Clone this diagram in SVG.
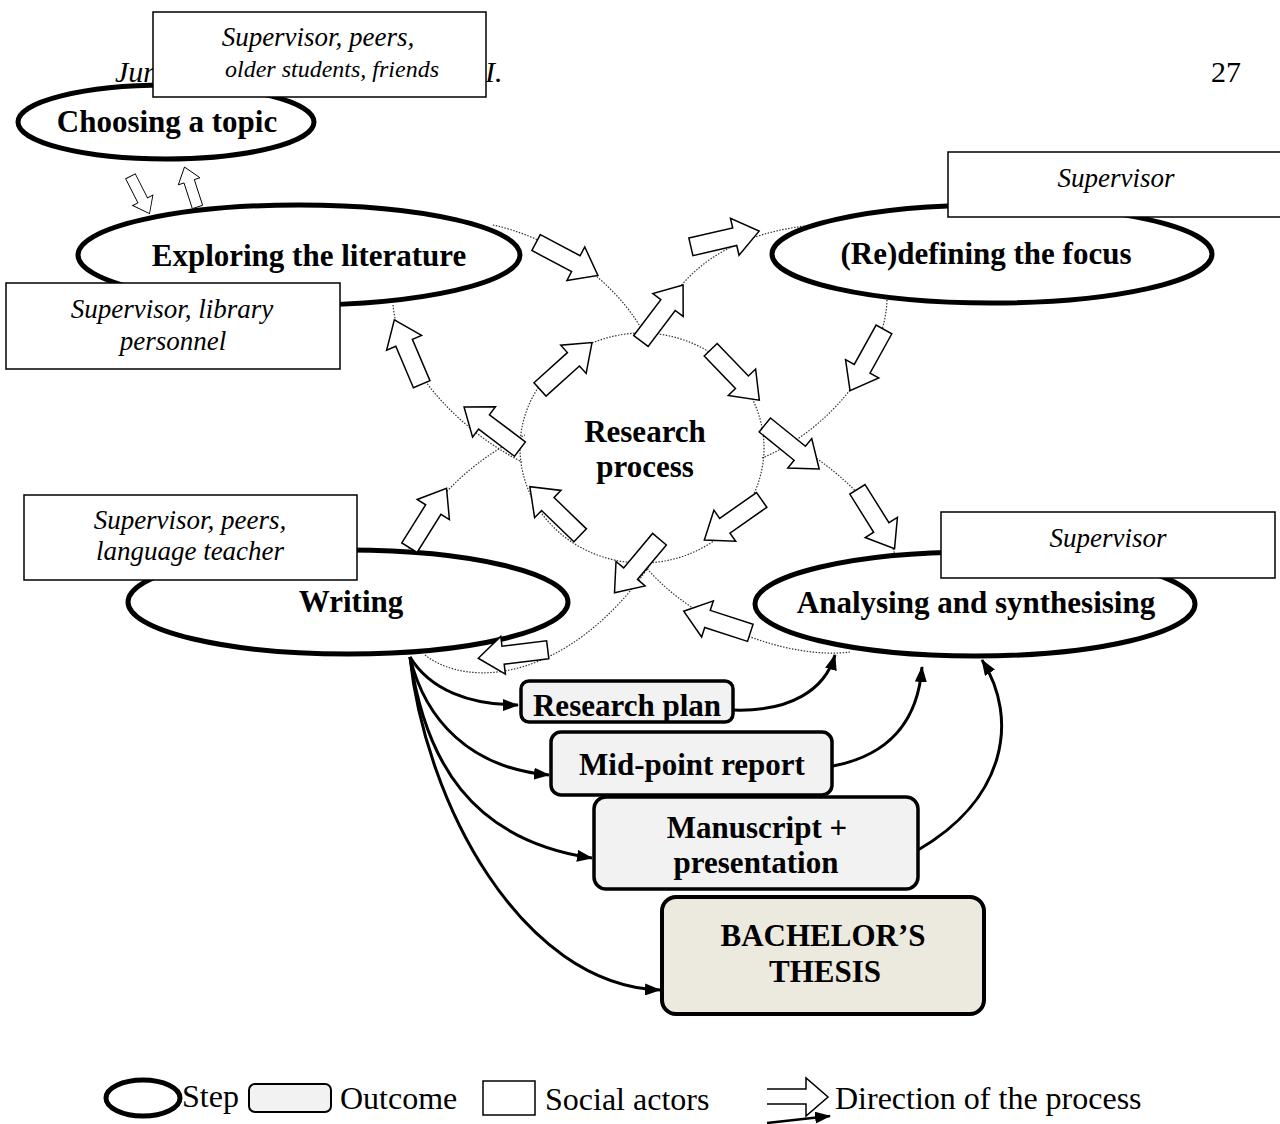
<svg xmlns="http://www.w3.org/2000/svg" xmlns:xlink="http://www.w3.org/1999/xlink" width="1280" height="1124" viewBox="0 0 1280 1124">
<style>
.step{fill:#fff;stroke:#000;stroke-width:5}
.actor{fill:#fff;stroke:#000;stroke-width:1.5}
.out{fill:#f2f2f2;stroke:#000;stroke-width:3.5}
.thesis{fill:#ece9df;stroke:#000;stroke-width:4}
.dot{fill:none;stroke:#333;stroke-width:1.2;stroke-dasharray:1.5 1.5}
.ba{fill:#fff;stroke:#000;stroke-width:1.5}
.con{fill:none;stroke:#000;stroke-width:3;marker-end:url(#ah)}
.tb{font-family:"Liberation Serif","Times New Roman",serif;font-weight:bold;font-size:31px;text-anchor:middle;fill:#000}
.ti{font-family:"Liberation Serif","Times New Roman",serif;font-style:italic;font-size:27px;text-anchor:middle;fill:#000}
.tn{font-family:"Liberation Serif","Times New Roman",serif;font-size:32px;fill:#000}
</style>
<defs>
<marker id="ah" viewBox="0 0 16 12" refX="15" refY="6" markerWidth="16" markerHeight="12" markerUnits="userSpaceOnUse" orient="auto"><path d="M0,0 L16,6 L0,12 Z" fill="#000"/></marker>
<path id="barrow" class="ba" d="M-35,-9 H10 V-19 L35,0 L10,19 V9 H-35 Z"/>
</defs>
<rect width="1280" height="1124" fill="#fff"/>

<g id="header">
<text class="tn" x="115" y="82" style="font-style:italic;font-size:30px">Jun</text>
<text class="tn" x="485" y="82" style="font-style:italic;font-size:30px">I.</text>
<text class="tn" x="1211" y="82" style="font-size:30px">27</text>
</g>

<g id="loops">
<path class="dot" d="M493,225 C540,235 610,270 645,335"/>
<path class="dot" d="M393,305 C398,360 450,425 522,462"/>
<path class="dot" d="M655,335 C672,275 730,228 830,224"/>
<path class="dot" d="M887,300 C885,360 830,430 762,458"/>
<path class="dot" d="M765,428 C820,455 880,500 895,555"/>
<path class="dot" d="M850,652 C790,660 690,625 640,560"/>
<path class="dot" d="M405,560 C420,510 470,460 525,435"/>
<path class="dot" d="M425,655 C470,690 570,680 650,565"/>
</g>

<g id="research-process">
<ellipse cx="642" cy="448" rx="122" ry="115" fill="#fff" class="dot"/>
<text class="tb" x="645" y="442">Research</text>
<text class="tb" x="645" y="477">process</text>
</g>

<g id="choosing">
<ellipse class="step" cx="166" cy="122" rx="148" ry="37"/>
<text class="tb" x="167" y="132">Choosing a topic</text>
</g>
<g id="exploring">
<ellipse class="step" cx="299" cy="255" rx="221" ry="50"/>
<text class="tb" x="309" y="266">Exploring the literature</text>
</g>
<g id="redefining">
<ellipse class="step" cx="992" cy="254" rx="220" ry="49"/>
<text class="tb" x="986" y="264">(Re)defining the focus</text>
</g>
<g id="writing">
<ellipse class="step" cx="348" cy="602" rx="220" ry="52"/>
<text class="tb" x="351" y="612">Writing</text>
</g>
<g id="analysing">
<ellipse class="step" cx="975" cy="604" rx="220" ry="52"/>
<text class="tb" x="976" y="613">Analysing and synthesising</text>
</g>

<g id="process-arrows">
<use xlink:href="#barrow" transform="translate(140,195) rotate(63) scale(0.6)"/>
<use xlink:href="#barrow" transform="translate(191,187) rotate(-108) scale(0.6)"/>
<use xlink:href="#barrow" transform="translate(567,259) rotate(28)"/>
<use xlink:href="#barrow" transform="translate(725,239) rotate(-13)"/>
<use xlink:href="#barrow" transform="translate(662,313) rotate(-53)"/>
<use xlink:href="#barrow" transform="translate(566,366) rotate(-42)"/>
<use xlink:href="#barrow" transform="translate(408,352) rotate(-113)"/>
<use xlink:href="#barrow" transform="translate(492,428) rotate(-143)"/>
<use xlink:href="#barrow" transform="translate(735,375) rotate(46)"/>
<use xlink:href="#barrow" transform="translate(792,447) rotate(39)"/>
<use xlink:href="#barrow" transform="translate(867,360) rotate(119)"/>
<use xlink:href="#barrow" transform="translate(876,519) rotate(58)"/>
<use xlink:href="#barrow" transform="translate(733,520) rotate(145)"/>
<use xlink:href="#barrow" transform="translate(637,566) rotate(130)"/>
<use xlink:href="#barrow" transform="translate(555,511) rotate(-136)"/>
<use xlink:href="#barrow" transform="translate(428,518) rotate(-58)"/>
<use xlink:href="#barrow" transform="translate(717,622) rotate(-162)"/>
<use xlink:href="#barrow" transform="translate(513,654) rotate(173)"/>
</g>

<g id="connectors">
<path class="con" d="M410,657 C430,690 470,705 518,705"/>
<path class="con" d="M410,657 C425,720 470,768 549,775"/>
<path class="con" d="M410,657 C425,760 470,840 592,858"/>
<path class="con" d="M410,657 C425,800 520,985 660,990"/>
<path class="con" d="M733,710 C790,712 825,690 835,655"/>
<path class="con" d="M833,766 C890,755 918,720 922,667"/>
<path class="con" d="M918,850 C1005,800 1020,720 982,660"/>
</g>

<g id="research-plan">
<rect class="out" x="521" y="681" width="212" height="41" rx="8"/>
<text class="tb" x="627" y="716">Research plan</text>
</g>
<g id="mid-point-report">
<rect class="out" x="551" y="732" width="281" height="63" rx="10"/>
<text class="tb" x="692" y="775">Mid-point report</text>
</g>
<g id="manuscript">
<rect class="out" x="594" y="797" width="324" height="92" rx="12"/>
<text class="tb" x="757" y="838">Manuscript +</text>
<text class="tb" x="756" y="873">presentation</text>
</g>
<g id="thesis">
<rect class="thesis" x="662" y="897" width="322" height="117" rx="14"/>
<text class="tb" x="823" y="946">BACHELOR’S</text>
<text class="tb" x="825" y="982">THESIS</text>
</g>

<g id="actors-choosing">
<rect class="actor" x="153" y="12" width="333" height="85"/>
<text class="ti" x="318" y="46">Supervisor, peers,</text>
<text class="ti" x="332" y="77" style="font-size:24px">older students, friends</text>
</g>
<g id="actors-redefining">
<rect class="actor" x="948" y="152" width="340" height="65"/>
<text class="ti" x="1116" y="187">Supervisor</text>
</g>
<g id="actors-exploring">
<rect class="actor" x="6" y="283" width="334" height="86"/>
<text class="ti" x="172" y="318">Supervisor, library</text>
<text class="ti" x="173" y="350">personnel</text>
</g>
<g id="actors-writing">
<rect class="actor" x="24" y="495" width="333" height="85"/>
<text class="ti" x="190" y="529">Supervisor, peers,</text>
<text class="ti" x="190" y="560">language teacher</text>
</g>
<g id="actors-analysing">
<rect class="actor" x="941" y="512" width="334" height="66"/>
<text class="ti" x="1108" y="547">Supervisor</text>
</g>

<g id="legend">
<ellipse cx="143" cy="1098" rx="37" ry="18" fill="#fff" stroke="#000" stroke-width="5"/>
<text class="tn" x="182" y="1107">Step</text>
<rect x="249" y="1084" width="82" height="28" rx="6" fill="#f2f2f2" stroke="#000" stroke-width="2"/>
<text class="tn" x="340" y="1109">Outcome</text>
<rect x="483" y="1081" width="52" height="34" fill="#fff" stroke="#000" stroke-width="1.5"/>
<text class="tn" x="545" y="1110">Social actors</text>
<path d="M767,1089 H806 V1078 L828,1097 L806,1116 V1104 H767" fill="#fff" stroke="#000" stroke-width="1.5"/>
<path d="M767,1123 L830,1116" fill="none" stroke="#000" stroke-width="2.5" marker-end="url(#ah)"/>
<text class="tn" x="835" y="1109">Direction of the process</text>
</g>
</svg>
